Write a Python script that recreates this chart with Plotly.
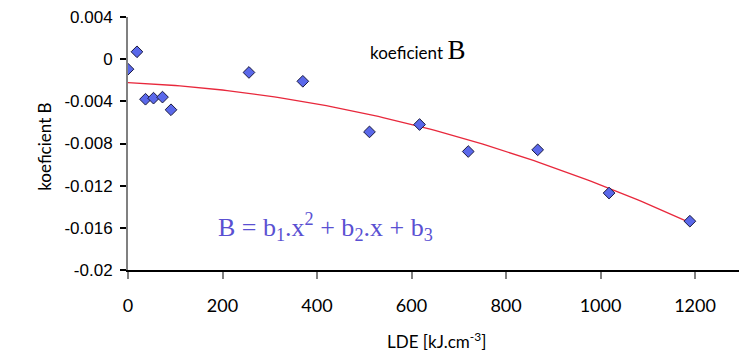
import numpy as np
import plotly.graph_objects as go

# Data
lde = [0, 19, 37, 54, 73, 91, 256, 370, 511, 617, 720, 867, 1018, 1189]
koef_b = [-0.00095, 0.0007, -0.0038, -0.0037, -0.0036, -0.0048, -0.00126,
          -0.0021, -0.0069, -0.0062, -0.00876, -0.0086, -0.0127, -0.01537]
x_ticks = [0, 200, 400, 600, 800, 1000, 1200]
y_ticks = [0.004, 0, -0.004, -0.008, -0.012, -0.016, -0.02]
y_tick_text = ["0.004", "0", "-0.004", "-0.008", "-0.012", "-0.016", "-0.02"]

# polynomial (2nd order) trendline, as Excel draws it
coef = np.polyfit(lde, koef_b, 2)
xf = np.linspace(0, max(lde), 120)
yf = np.polyval(coef, xf)

fig = go.Figure()
fig.add_trace(go.Scatter(x=xf, y=yf, mode="lines",
                         line=dict(color="#e8283c", width=1.3),
                         hoverinfo="skip", showlegend=False))
fig.add_trace(go.Scatter(x=lde, y=koef_b, mode="markers",
                         marker=dict(symbol="diamond", size=9, color="#5a68ea",
                                     line=dict(color="#1a1a40", width=1)),
                         showlegend=False))

fig.update_layout(
    width=739, height=352,
    margin=dict(l=128, r=0, t=17, b=82),
    paper_bgcolor="white", plot_bgcolor="white",
    xaxis=dict(range=[0, 1293], tickvals=x_ticks, ticktext=[str(v) for v in x_ticks],
               showgrid=False, zeroline=False,
               showline=True, linecolor="black", linewidth=1.5,
               ticks="outside", ticklen=7, tickwidth=2, tickcolor="#808080",
               ticklabelstandoff=12,
               tickfont=dict(family="Lato, Open Sans, sans-serif", size=18, color="black")),
    yaxis=dict(range=[-0.02, 0.004], tickvals=y_ticks, ticktext=y_tick_text,
               showgrid=False, zeroline=False,
               showline=True, linecolor="#808080", linewidth=2,
               ticks="outside", ticklen=6, tickwidth=1.5, tickcolor="black",
               ticklabelstandoff=4,
               tickfont=dict(family="Liberation Sans, Arial, sans-serif", size=17, color="black")),
    annotations=[
        dict(text="koeficient B", xref="paper", yref="paper", x=0, y=0.485,
             xshift=-96, textangle=-90, showarrow=False,
             font=dict(family="Lato, Open Sans, sans-serif", size=17, color="black")),
        dict(text="LDE [kJ.cm<sup>-3</sup>]", xref="paper", yref="paper", x=0.505, y=0,
             yshift=-70, yanchor="middle", showarrow=False,
             font=dict(family="Lato, Open Sans, sans-serif", size=17, color="black")),
        dict(text="koeficient <span style='font-family:Liberation Serif, serif; font-size:27px'>B</span>",
             xref="paper", yref="paper", x=0.474, y=0.87, xanchor="center", yanchor="middle",
             showarrow=False,
             font=dict(family="Lato, Open Sans, sans-serif", size=17, color="black")),
        dict(text="B = b<sub>1</sub>.x<sup>2</sup> + b<sub>2</sub>.x + b<sub>3</sub>",
             xref="paper", yref="paper", x=0.144, y=0.17, xanchor="left", yanchor="middle",
             showarrow=False,
             font=dict(family="Liberation Serif, serif", size=26, color="#5a50d2")),
    ],
)

fig.write_html("out.html")
